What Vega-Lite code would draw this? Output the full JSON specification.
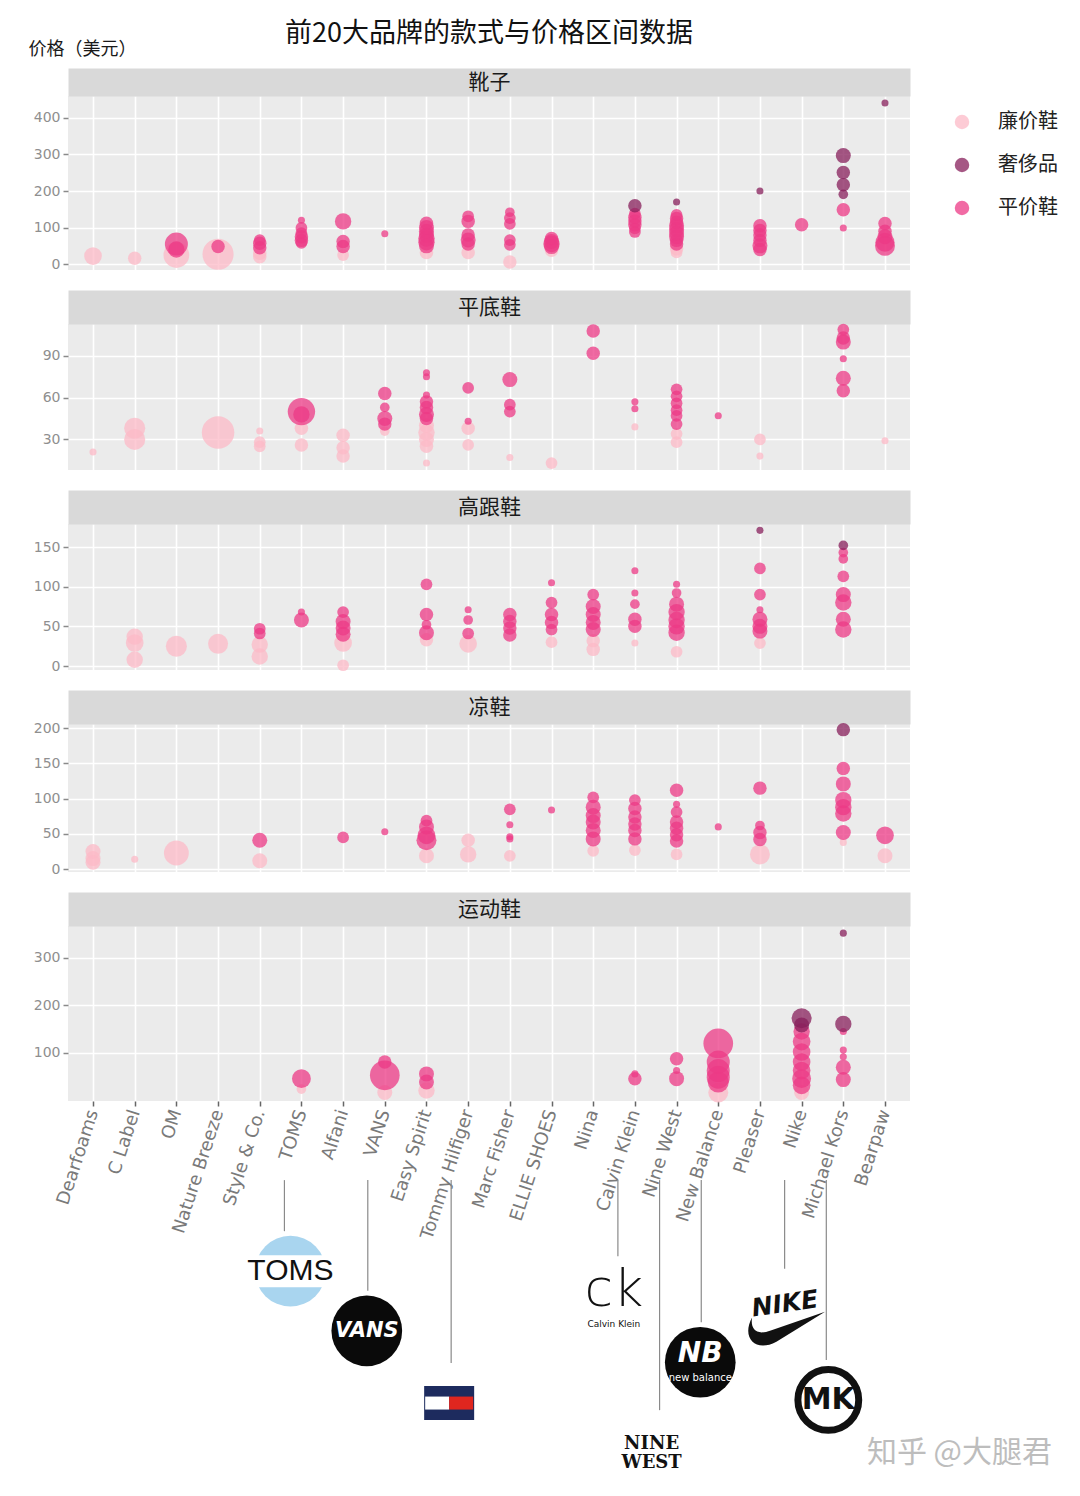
{
  "$schema": "https://vega.github.io/schema/vega-lite/v6.json",
  "background": "#ffffff",
  "padding": {"left": 28, "top": 20, "right": 5, "bottom": 5},
  "title": {
    "text": "前20大品牌的款式与价格区间数据",
    "anchor": "middle",
    "frame": "group",
    "font": "Noto Sans CJK SC",
    "fontSize": 27,
    "fontWeight": "normal",
    "color": "#111111",
    "offset": -8
  },
  "config": {
    "view": {"fill": "#ebebeb", "stroke": null},
    "font": "Noto Sans CJK SC",
    "axisX": {"gridColor": "#ffffff", "gridWidth": 1.6},
    "axisY": {
      "labelFont": "DejaVu Sans", "labelFontSize": 14, "labelColor": "#8f8f8f",
      "tickColor": "#8a8a8a", "tickSize": 5, "tickWidth": 1.5, "labelPadding": 3,
      "domain": false, "gridColor": "#ffffff", "gridWidth": 1.6
    },
    "legend": {
      "orient": "none", "legendX": 884, "legendY": 16,
      "symbolType": "circle", "symbolSize": 210, "symbolOpacity": 0.75, "symbolStrokeWidth": 0,
      "labelFont": "Noto Sans CJK SC", "labelFontSize": 20, "labelColor": "#222222",
      "labelOffset": 26, "rowPadding": 23
    }
  },
  "datasets": {
    "shoes": [
      {"cat":"靴子","brand":"Dearfoams","price":22,"grade":"廉价鞋","n":7},
      {"cat":"靴子","brand":"C Label","price":16,"grade":"廉价鞋","n":4},
      {"cat":"靴子","brand":"OM","price":25,"grade":"廉价鞋","n":15},
      {"cat":"靴子","brand":"OM","price":40,"grade":"平价鞋","n":6},
      {"cat":"靴子","brand":"OM","price":55,"grade":"平价鞋","n":12},
      {"cat":"靴子","brand":"Nature Breeze","price":27,"grade":"廉价鞋","n":22},
      {"cat":"靴子","brand":"Nature Breeze","price":48,"grade":"平价鞋","n":4},
      {"cat":"靴子","brand":"Style & Co.","price":20,"grade":"廉价鞋","n":4},
      {"cat":"靴子","brand":"Style & Co.","price":30,"grade":"廉价鞋","n":4},
      {"cat":"靴子","brand":"Style & Co.","price":45,"grade":"平价鞋","n":4},
      {"cat":"靴子","brand":"Style & Co.","price":57,"grade":"平价鞋","n":4},
      {"cat":"靴子","brand":"Style & Co.","price":66,"grade":"平价鞋","n":3},
      {"cat":"靴子","brand":"TOMS","price":58,"grade":"平价鞋","n":3},
      {"cat":"靴子","brand":"TOMS","price":65,"grade":"平价鞋","n":4},
      {"cat":"靴子","brand":"TOMS","price":75,"grade":"平价鞋","n":4},
      {"cat":"靴子","brand":"TOMS","price":85,"grade":"平价鞋","n":3},
      {"cat":"靴子","brand":"TOMS","price":99,"grade":"平价鞋","n":3},
      {"cat":"靴子","brand":"TOMS","price":120,"grade":"平价鞋","n":1},
      {"cat":"靴子","brand":"Alfani","price":25,"grade":"廉价鞋","n":3},
      {"cat":"靴子","brand":"Alfani","price":48,"grade":"平价鞋","n":4},
      {"cat":"靴子","brand":"Alfani","price":62,"grade":"平价鞋","n":4},
      {"cat":"靴子","brand":"Alfani","price":117,"grade":"平价鞋","n":6},
      {"cat":"靴子","brand":"VANS","price":83,"grade":"平价鞋","n":1},
      {"cat":"靴子","brand":"Easy Spirit","price":32,"grade":"廉价鞋","n":4},
      {"cat":"靴子","brand":"Easy Spirit","price":50,"grade":"平价鞋","n":5},
      {"cat":"靴子","brand":"Easy Spirit","price":60,"grade":"平价鞋","n":6},
      {"cat":"靴子","brand":"Easy Spirit","price":70,"grade":"平价鞋","n":6},
      {"cat":"靴子","brand":"Easy Spirit","price":80,"grade":"平价鞋","n":5},
      {"cat":"靴子","brand":"Easy Spirit","price":90,"grade":"平价鞋","n":5},
      {"cat":"靴子","brand":"Easy Spirit","price":100,"grade":"平价鞋","n":5},
      {"cat":"靴子","brand":"Easy Spirit","price":112,"grade":"平价鞋","n":4},
      {"cat":"靴子","brand":"Tommy Hilfiger","price":32,"grade":"廉价鞋","n":4},
      {"cat":"靴子","brand":"Tommy Hilfiger","price":55,"grade":"平价鞋","n":4},
      {"cat":"靴子","brand":"Tommy Hilfiger","price":66,"grade":"平价鞋","n":5},
      {"cat":"靴子","brand":"Tommy Hilfiger","price":80,"grade":"平价鞋","n":4},
      {"cat":"靴子","brand":"Tommy Hilfiger","price":117,"grade":"平价鞋","n":4},
      {"cat":"靴子","brand":"Tommy Hilfiger","price":131,"grade":"平价鞋","n":3},
      {"cat":"靴子","brand":"Marc Fisher","price":6,"grade":"廉价鞋","n":4},
      {"cat":"靴子","brand":"Marc Fisher","price":53,"grade":"平价鞋","n":3},
      {"cat":"靴子","brand":"Marc Fisher","price":66,"grade":"平价鞋","n":3},
      {"cat":"靴子","brand":"Marc Fisher","price":110,"grade":"平价鞋","n":3},
      {"cat":"靴子","brand":"Marc Fisher","price":126,"grade":"平价鞋","n":3},
      {"cat":"靴子","brand":"Marc Fisher","price":142,"grade":"平价鞋","n":2},
      {"cat":"靴子","brand":"ELLIE SHOES","price":38,"grade":"廉价鞋","n":4},
      {"cat":"靴子","brand":"ELLIE SHOES","price":48,"grade":"平价鞋","n":5},
      {"cat":"靴子","brand":"ELLIE SHOES","price":55,"grade":"平价鞋","n":6},
      {"cat":"靴子","brand":"ELLIE SHOES","price":62,"grade":"平价鞋","n":5},
      {"cat":"靴子","brand":"ELLIE SHOES","price":70,"grade":"平价鞋","n":4},
      {"cat":"靴子","brand":"Calvin Klein","price":88,"grade":"平价鞋","n":3},
      {"cat":"靴子","brand":"Calvin Klein","price":98,"grade":"平价鞋","n":3},
      {"cat":"靴子","brand":"Calvin Klein","price":108,"grade":"平价鞋","n":4},
      {"cat":"靴子","brand":"Calvin Klein","price":118,"grade":"平价鞋","n":4},
      {"cat":"靴子","brand":"Calvin Klein","price":128,"grade":"平价鞋","n":4},
      {"cat":"靴子","brand":"Calvin Klein","price":138,"grade":"平价鞋","n":3},
      {"cat":"靴子","brand":"Calvin Klein","price":160,"grade":"奢侈品","n":4},
      {"cat":"靴子","brand":"Nine West","price":32,"grade":"廉价鞋","n":3},
      {"cat":"靴子","brand":"Nine West","price":42,"grade":"廉价鞋","n":4},
      {"cat":"靴子","brand":"Nine West","price":55,"grade":"平价鞋","n":4},
      {"cat":"靴子","brand":"Nine West","price":65,"grade":"平价鞋","n":4},
      {"cat":"靴子","brand":"Nine West","price":75,"grade":"平价鞋","n":5},
      {"cat":"靴子","brand":"Nine West","price":85,"grade":"平价鞋","n":5},
      {"cat":"靴子","brand":"Nine West","price":95,"grade":"平价鞋","n":5},
      {"cat":"靴子","brand":"Nine West","price":105,"grade":"平价鞋","n":5},
      {"cat":"靴子","brand":"Nine West","price":115,"grade":"平价鞋","n":4},
      {"cat":"靴子","brand":"Nine West","price":125,"grade":"平价鞋","n":4},
      {"cat":"靴子","brand":"Nine West","price":135,"grade":"平价鞋","n":3},
      {"cat":"靴子","brand":"Nine West","price":170,"grade":"奢侈品","n":1},
      {"cat":"靴子","brand":"Pleaser","price":40,"grade":"平价鞋","n":4},
      {"cat":"靴子","brand":"Pleaser","price":50,"grade":"平价鞋","n":5},
      {"cat":"靴子","brand":"Pleaser","price":65,"grade":"平价鞋","n":4},
      {"cat":"靴子","brand":"Pleaser","price":80,"grade":"平价鞋","n":4},
      {"cat":"靴子","brand":"Pleaser","price":92,"grade":"平价鞋","n":4},
      {"cat":"靴子","brand":"Pleaser","price":105,"grade":"平价鞋","n":4},
      {"cat":"靴子","brand":"Pleaser","price":200,"grade":"奢侈品","n":1},
      {"cat":"靴子","brand":"Nike","price":108,"grade":"平价鞋","n":4},
      {"cat":"靴子","brand":"Michael Kors","price":99,"grade":"平价鞋","n":1},
      {"cat":"靴子","brand":"Michael Kors","price":149,"grade":"平价鞋","n":4},
      {"cat":"靴子","brand":"Michael Kors","price":191,"grade":"奢侈品","n":2},
      {"cat":"靴子","brand":"Michael Kors","price":217,"grade":"奢侈品","n":4},
      {"cat":"靴子","brand":"Michael Kors","price":251,"grade":"奢侈品","n":4},
      {"cat":"靴子","brand":"Michael Kors","price":297,"grade":"奢侈品","n":5},
      {"cat":"靴子","brand":"Bearpaw","price":50,"grade":"平价鞋","n":9},
      {"cat":"靴子","brand":"Bearpaw","price":60,"grade":"平价鞋","n":8},
      {"cat":"靴子","brand":"Bearpaw","price":75,"grade":"平价鞋","n":5},
      {"cat":"靴子","brand":"Bearpaw","price":90,"grade":"平价鞋","n":4},
      {"cat":"靴子","brand":"Bearpaw","price":111,"grade":"平价鞋","n":4},
      {"cat":"靴子","brand":"Bearpaw","price":441,"grade":"奢侈品","n":1},

      {"cat":"平底鞋","brand":"Dearfoams","price":21,"grade":"廉价鞋","n":1},
      {"cat":"平底鞋","brand":"C Label","price":30,"grade":"廉价鞋","n":10},
      {"cat":"平底鞋","brand":"C Label","price":38,"grade":"廉价鞋","n":10},
      {"cat":"平底鞋","brand":"Nature Breeze","price":35,"grade":"廉价鞋","n":24},
      {"cat":"平底鞋","brand":"Style & Co.","price":25,"grade":"廉价鞋","n":3},
      {"cat":"平底鞋","brand":"Style & Co.","price":28,"grade":"廉价鞋","n":3},
      {"cat":"平底鞋","brand":"Style & Co.","price":36,"grade":"廉价鞋","n":1},
      {"cat":"平底鞋","brand":"TOMS","price":26,"grade":"廉价鞋","n":4},
      {"cat":"平底鞋","brand":"TOMS","price":38,"grade":"廉价鞋","n":4},
      {"cat":"平底鞋","brand":"TOMS","price":48,"grade":"平价鞋","n":6},
      {"cat":"平底鞋","brand":"TOMS","price":50,"grade":"平价鞋","n":17},
      {"cat":"平底鞋","brand":"Alfani","price":18,"grade":"廉价鞋","n":4},
      {"cat":"平底鞋","brand":"Alfani","price":24,"grade":"廉价鞋","n":4},
      {"cat":"平底鞋","brand":"Alfani","price":33,"grade":"廉价鞋","n":4},
      {"cat":"平底鞋","brand":"VANS","price":36,"grade":"廉价鞋","n":2},
      {"cat":"平底鞋","brand":"VANS","price":41,"grade":"平价鞋","n":4},
      {"cat":"平底鞋","brand":"VANS","price":45,"grade":"平价鞋","n":5},
      {"cat":"平底鞋","brand":"VANS","price":53,"grade":"平价鞋","n":2},
      {"cat":"平底鞋","brand":"VANS","price":63,"grade":"平价鞋","n":4},
      {"cat":"平底鞋","brand":"Easy Spirit","price":13,"grade":"廉价鞋","n":1},
      {"cat":"平底鞋","brand":"Easy Spirit","price":25,"grade":"廉价鞋","n":4},
      {"cat":"平底鞋","brand":"Easy Spirit","price":30,"grade":"廉价鞋","n":5},
      {"cat":"平底鞋","brand":"Easy Spirit","price":35,"grade":"廉价鞋","n":6},
      {"cat":"平底鞋","brand":"Easy Spirit","price":40,"grade":"廉价鞋","n":5},
      {"cat":"平底鞋","brand":"Easy Spirit","price":45,"grade":"平价鞋","n":4},
      {"cat":"平底鞋","brand":"Easy Spirit","price":48,"grade":"平价鞋","n":5},
      {"cat":"平底鞋","brand":"Easy Spirit","price":53,"grade":"平价鞋","n":4},
      {"cat":"平底鞋","brand":"Easy Spirit","price":57,"grade":"平价鞋","n":4},
      {"cat":"平底鞋","brand":"Easy Spirit","price":62,"grade":"平价鞋","n":1},
      {"cat":"平底鞋","brand":"Easy Spirit","price":75,"grade":"平价鞋","n":1},
      {"cat":"平底鞋","brand":"Easy Spirit","price":78,"grade":"平价鞋","n":1},
      {"cat":"平底鞋","brand":"Tommy Hilfiger","price":26,"grade":"廉价鞋","n":3},
      {"cat":"平底鞋","brand":"Tommy Hilfiger","price":38,"grade":"廉价鞋","n":4},
      {"cat":"平底鞋","brand":"Tommy Hilfiger","price":43,"grade":"平价鞋","n":1},
      {"cat":"平底鞋","brand":"Tommy Hilfiger","price":67,"grade":"平价鞋","n":3},
      {"cat":"平底鞋","brand":"Marc Fisher","price":17,"grade":"廉价鞋","n":1},
      {"cat":"平底鞋","brand":"Marc Fisher","price":50,"grade":"平价鞋","n":3},
      {"cat":"平底鞋","brand":"Marc Fisher","price":55,"grade":"平价鞋","n":3},
      {"cat":"平底鞋","brand":"Marc Fisher","price":73,"grade":"平价鞋","n":5},
      {"cat":"平底鞋","brand":"ELLIE SHOES","price":13,"grade":"廉价鞋","n":3},
      {"cat":"平底鞋","brand":"Nina","price":92,"grade":"平价鞋","n":4},
      {"cat":"平底鞋","brand":"Nina","price":108,"grade":"平价鞋","n":4},
      {"cat":"平底鞋","brand":"Calvin Klein","price":39,"grade":"廉价鞋","n":1},
      {"cat":"平底鞋","brand":"Calvin Klein","price":52,"grade":"平价鞋","n":1},
      {"cat":"平底鞋","brand":"Calvin Klein","price":57,"grade":"平价鞋","n":1},
      {"cat":"平底鞋","brand":"Nine West","price":28,"grade":"廉价鞋","n":3},
      {"cat":"平底鞋","brand":"Nine West","price":34,"grade":"廉价鞋","n":3},
      {"cat":"平底鞋","brand":"Nine West","price":41,"grade":"平价鞋","n":3},
      {"cat":"平底鞋","brand":"Nine West","price":47,"grade":"平价鞋","n":3},
      {"cat":"平底鞋","brand":"Nine West","price":51,"grade":"平价鞋","n":3},
      {"cat":"平底鞋","brand":"Nine West","price":56,"grade":"平价鞋","n":3},
      {"cat":"平底鞋","brand":"Nine West","price":61,"grade":"平价鞋","n":3},
      {"cat":"平底鞋","brand":"Nine West","price":66,"grade":"平价鞋","n":3},
      {"cat":"平底鞋","brand":"New Balance","price":47,"grade":"平价鞋","n":1},
      {"cat":"平底鞋","brand":"Pleaser","price":18,"grade":"廉价鞋","n":1},
      {"cat":"平底鞋","brand":"Pleaser","price":30,"grade":"廉价鞋","n":3},
      {"cat":"平底鞋","brand":"Michael Kors","price":65,"grade":"平价鞋","n":4},
      {"cat":"平底鞋","brand":"Michael Kors","price":74,"grade":"平价鞋","n":5},
      {"cat":"平底鞋","brand":"Michael Kors","price":88,"grade":"平价鞋","n":1},
      {"cat":"平底鞋","brand":"Michael Kors","price":100,"grade":"平价鞋","n":5},
      {"cat":"平底鞋","brand":"Michael Kors","price":103,"grade":"平价鞋","n":4},
      {"cat":"平底鞋","brand":"Michael Kors","price":109,"grade":"平价鞋","n":3},
      {"cat":"平底鞋","brand":"Bearpaw","price":29,"grade":"廉价鞋","n":1},

      {"cat":"高跟鞋","brand":"C Label","price":8,"grade":"廉价鞋","n":6},
      {"cat":"高跟鞋","brand":"C Label","price":29,"grade":"廉价鞋","n":7},
      {"cat":"高跟鞋","brand":"C Label","price":37,"grade":"廉价鞋","n":6},
      {"cat":"高跟鞋","brand":"OM","price":25,"grade":"廉价鞋","n":10},
      {"cat":"高跟鞋","brand":"Nature Breeze","price":28,"grade":"廉价鞋","n":9},
      {"cat":"高跟鞋","brand":"Style & Co.","price":12,"grade":"廉价鞋","n":6},
      {"cat":"高跟鞋","brand":"Style & Co.","price":27,"grade":"廉价鞋","n":6},
      {"cat":"高跟鞋","brand":"Style & Co.","price":41,"grade":"平价鞋","n":3},
      {"cat":"高跟鞋","brand":"Style & Co.","price":47,"grade":"平价鞋","n":3},
      {"cat":"高跟鞋","brand":"TOMS","price":58,"grade":"平价鞋","n":5},
      {"cat":"高跟鞋","brand":"TOMS","price":68,"grade":"平价鞋","n":1},
      {"cat":"高跟鞋","brand":"Alfani","price":1,"grade":"廉价鞋","n":3},
      {"cat":"高跟鞋","brand":"Alfani","price":29,"grade":"廉价鞋","n":7},
      {"cat":"高跟鞋","brand":"Alfani","price":40,"grade":"平价鞋","n":5},
      {"cat":"高跟鞋","brand":"Alfani","price":48,"grade":"平价鞋","n":5},
      {"cat":"高跟鞋","brand":"Alfani","price":56,"grade":"平价鞋","n":5},
      {"cat":"高跟鞋","brand":"Alfani","price":68,"grade":"平价鞋","n":3},
      {"cat":"高跟鞋","brand":"Easy Spirit","price":33,"grade":"廉价鞋","n":4},
      {"cat":"高跟鞋","brand":"Easy Spirit","price":42,"grade":"平价鞋","n":5},
      {"cat":"高跟鞋","brand":"Easy Spirit","price":52,"grade":"平价鞋","n":2},
      {"cat":"高跟鞋","brand":"Easy Spirit","price":65,"grade":"平价鞋","n":4},
      {"cat":"高跟鞋","brand":"Easy Spirit","price":103,"grade":"平价鞋","n":3},
      {"cat":"高跟鞋","brand":"Tommy Hilfiger","price":28,"grade":"廉价鞋","n":7},
      {"cat":"高跟鞋","brand":"Tommy Hilfiger","price":41,"grade":"平价鞋","n":3},
      {"cat":"高跟鞋","brand":"Tommy Hilfiger","price":58,"grade":"平价鞋","n":2},
      {"cat":"高跟鞋","brand":"Tommy Hilfiger","price":71,"grade":"平价鞋","n":1},
      {"cat":"高跟鞋","brand":"Marc Fisher","price":39,"grade":"平价鞋","n":4},
      {"cat":"高跟鞋","brand":"Marc Fisher","price":48,"grade":"平价鞋","n":4},
      {"cat":"高跟鞋","brand":"Marc Fisher","price":56,"grade":"平价鞋","n":4},
      {"cat":"高跟鞋","brand":"Marc Fisher","price":65,"grade":"平价鞋","n":4},
      {"cat":"高跟鞋","brand":"ELLIE SHOES","price":30,"grade":"廉价鞋","n":3},
      {"cat":"高跟鞋","brand":"ELLIE SHOES","price":46,"grade":"平价鞋","n":3},
      {"cat":"高跟鞋","brand":"ELLIE SHOES","price":55,"grade":"平价鞋","n":4},
      {"cat":"高跟鞋","brand":"ELLIE SHOES","price":65,"grade":"平价鞋","n":4},
      {"cat":"高跟鞋","brand":"ELLIE SHOES","price":80,"grade":"平价鞋","n":3},
      {"cat":"高跟鞋","brand":"ELLIE SHOES","price":105,"grade":"平价鞋","n":1},
      {"cat":"高跟鞋","brand":"Nina","price":21,"grade":"廉价鞋","n":4},
      {"cat":"高跟鞋","brand":"Nina","price":32,"grade":"廉价鞋","n":4},
      {"cat":"高跟鞋","brand":"Nina","price":46,"grade":"平价鞋","n":5},
      {"cat":"高跟鞋","brand":"Nina","price":55,"grade":"平价鞋","n":5},
      {"cat":"高跟鞋","brand":"Nina","price":65,"grade":"平价鞋","n":5},
      {"cat":"高跟鞋","brand":"Nina","price":75,"grade":"平价鞋","n":5},
      {"cat":"高跟鞋","brand":"Nina","price":90,"grade":"平价鞋","n":3},
      {"cat":"高跟鞋","brand":"Calvin Klein","price":29,"grade":"廉价鞋","n":1},
      {"cat":"高跟鞋","brand":"Calvin Klein","price":50,"grade":"平价鞋","n":4},
      {"cat":"高跟鞋","brand":"Calvin Klein","price":59,"grade":"平价鞋","n":4},
      {"cat":"高跟鞋","brand":"Calvin Klein","price":78,"grade":"平价鞋","n":2},
      {"cat":"高跟鞋","brand":"Calvin Klein","price":92,"grade":"平价鞋","n":1},
      {"cat":"高跟鞋","brand":"Calvin Klein","price":120,"grade":"平价鞋","n":1},
      {"cat":"高跟鞋","brand":"Nine West","price":18,"grade":"廉价鞋","n":3},
      {"cat":"高跟鞋","brand":"Nine West","price":42,"grade":"平价鞋","n":6},
      {"cat":"高跟鞋","brand":"Nine West","price":50,"grade":"平价鞋","n":6},
      {"cat":"高跟鞋","brand":"Nine West","price":58,"grade":"平价鞋","n":6},
      {"cat":"高跟鞋","brand":"Nine West","price":68,"grade":"平价鞋","n":6},
      {"cat":"高跟鞋","brand":"Nine West","price":78,"grade":"平价鞋","n":5},
      {"cat":"高跟鞋","brand":"Nine West","price":92,"grade":"平价鞋","n":2},
      {"cat":"高跟鞋","brand":"Nine West","price":103,"grade":"平价鞋","n":1},
      {"cat":"高跟鞋","brand":"Pleaser","price":29,"grade":"廉价鞋","n":3},
      {"cat":"高跟鞋","brand":"Pleaser","price":44,"grade":"平价鞋","n":5},
      {"cat":"高跟鞋","brand":"Pleaser","price":50,"grade":"平价鞋","n":5},
      {"cat":"高跟鞋","brand":"Pleaser","price":59,"grade":"平价鞋","n":5},
      {"cat":"高跟鞋","brand":"Pleaser","price":71,"grade":"平价鞋","n":1},
      {"cat":"高跟鞋","brand":"Pleaser","price":90,"grade":"平价鞋","n":3},
      {"cat":"高跟鞋","brand":"Pleaser","price":123,"grade":"平价鞋","n":3},
      {"cat":"高跟鞋","brand":"Pleaser","price":171,"grade":"奢侈品","n":1},
      {"cat":"高跟鞋","brand":"Michael Kors","price":46,"grade":"平价鞋","n":6},
      {"cat":"高跟鞋","brand":"Michael Kors","price":59,"grade":"平价鞋","n":5},
      {"cat":"高跟鞋","brand":"Michael Kors","price":80,"grade":"平价鞋","n":6},
      {"cat":"高跟鞋","brand":"Michael Kors","price":90,"grade":"平价鞋","n":5},
      {"cat":"高跟鞋","brand":"Michael Kors","price":113,"grade":"平价鞋","n":3},
      {"cat":"高跟鞋","brand":"Michael Kors","price":135,"grade":"平价鞋","n":2},
      {"cat":"高跟鞋","brand":"Michael Kors","price":143,"grade":"平价鞋","n":2},
      {"cat":"高跟鞋","brand":"Michael Kors","price":152,"grade":"奢侈品","n":2},

      {"cat":"凉鞋","brand":"Dearfoams","price":10,"grade":"廉价鞋","n":5},
      {"cat":"凉鞋","brand":"Dearfoams","price":15,"grade":"廉价鞋","n":5},
      {"cat":"凉鞋","brand":"Dearfoams","price":25,"grade":"廉价鞋","n":5},
      {"cat":"凉鞋","brand":"C Label","price":14,"grade":"廉价鞋","n":1},
      {"cat":"凉鞋","brand":"OM","price":23,"grade":"廉价鞋","n":14},
      {"cat":"凉鞋","brand":"Style & Co.","price":12,"grade":"廉价鞋","n":5},
      {"cat":"凉鞋","brand":"Style & Co.","price":41,"grade":"平价鞋","n":5},
      {"cat":"凉鞋","brand":"Alfani","price":45,"grade":"平价鞋","n":3},
      {"cat":"凉鞋","brand":"VANS","price":53,"grade":"平价鞋","n":1},
      {"cat":"凉鞋","brand":"Easy Spirit","price":19,"grade":"廉价鞋","n":5},
      {"cat":"凉鞋","brand":"Easy Spirit","price":41,"grade":"平价鞋","n":9},
      {"cat":"凉鞋","brand":"Easy Spirit","price":48,"grade":"平价鞋","n":7},
      {"cat":"凉鞋","brand":"Easy Spirit","price":60,"grade":"平价鞋","n":5},
      {"cat":"凉鞋","brand":"Easy Spirit","price":69,"grade":"平价鞋","n":3},
      {"cat":"凉鞋","brand":"Tommy Hilfiger","price":21,"grade":"廉价鞋","n":6},
      {"cat":"凉鞋","brand":"Tommy Hilfiger","price":41,"grade":"廉价鞋","n":4},
      {"cat":"凉鞋","brand":"Marc Fisher","price":19,"grade":"廉价鞋","n":3},
      {"cat":"凉鞋","brand":"Marc Fisher","price":43,"grade":"平价鞋","n":1},
      {"cat":"凉鞋","brand":"Marc Fisher","price":46,"grade":"平价鞋","n":1},
      {"cat":"凉鞋","brand":"Marc Fisher","price":63,"grade":"平价鞋","n":1},
      {"cat":"凉鞋","brand":"Marc Fisher","price":85,"grade":"平价鞋","n":3},
      {"cat":"凉鞋","brand":"ELLIE SHOES","price":84,"grade":"平价鞋","n":1},
      {"cat":"凉鞋","brand":"Nina","price":26,"grade":"廉价鞋","n":3},
      {"cat":"凉鞋","brand":"Nina","price":43,"grade":"平价鞋","n":5},
      {"cat":"凉鞋","brand":"Nina","price":55,"grade":"平价鞋","n":5},
      {"cat":"凉鞋","brand":"Nina","price":67,"grade":"平价鞋","n":5},
      {"cat":"凉鞋","brand":"Nina","price":76,"grade":"平价鞋","n":5},
      {"cat":"凉鞋","brand":"Nina","price":88,"grade":"平价鞋","n":5},
      {"cat":"凉鞋","brand":"Nina","price":102,"grade":"平价鞋","n":3},
      {"cat":"凉鞋","brand":"Calvin Klein","price":27,"grade":"廉价鞋","n":3},
      {"cat":"凉鞋","brand":"Calvin Klein","price":43,"grade":"平价鞋","n":4},
      {"cat":"凉鞋","brand":"Calvin Klein","price":55,"grade":"平价鞋","n":4},
      {"cat":"凉鞋","brand":"Calvin Klein","price":64,"grade":"平价鞋","n":4},
      {"cat":"凉鞋","brand":"Calvin Klein","price":74,"grade":"平价鞋","n":4},
      {"cat":"凉鞋","brand":"Calvin Klein","price":86,"grade":"平价鞋","n":4},
      {"cat":"凉鞋","brand":"Calvin Klein","price":98,"grade":"平价鞋","n":3},
      {"cat":"凉鞋","brand":"Nine West","price":21,"grade":"廉价鞋","n":3},
      {"cat":"凉鞋","brand":"Nine West","price":40,"grade":"平价鞋","n":4},
      {"cat":"凉鞋","brand":"Nine West","price":49,"grade":"平价鞋","n":4},
      {"cat":"凉鞋","brand":"Nine West","price":58,"grade":"平价鞋","n":4},
      {"cat":"凉鞋","brand":"Nine West","price":67,"grade":"平价鞋","n":4},
      {"cat":"凉鞋","brand":"Nine West","price":81,"grade":"平价鞋","n":3},
      {"cat":"凉鞋","brand":"Nine West","price":92,"grade":"平价鞋","n":1},
      {"cat":"凉鞋","brand":"Nine West","price":112,"grade":"平价鞋","n":4},
      {"cat":"凉鞋","brand":"New Balance","price":60,"grade":"平价鞋","n":1},
      {"cat":"凉鞋","brand":"Pleaser","price":21,"grade":"廉价鞋","n":9},
      {"cat":"凉鞋","brand":"Pleaser","price":42,"grade":"平价鞋","n":4},
      {"cat":"凉鞋","brand":"Pleaser","price":52,"grade":"平价鞋","n":4},
      {"cat":"凉鞋","brand":"Pleaser","price":62,"grade":"平价鞋","n":2},
      {"cat":"凉鞋","brand":"Pleaser","price":115,"grade":"平价鞋","n":4},
      {"cat":"凉鞋","brand":"Michael Kors","price":38,"grade":"廉价鞋","n":1},
      {"cat":"凉鞋","brand":"Michael Kors","price":52,"grade":"平价鞋","n":5},
      {"cat":"凉鞋","brand":"Michael Kors","price":79,"grade":"平价鞋","n":6},
      {"cat":"凉鞋","brand":"Michael Kors","price":88,"grade":"平价鞋","n":6},
      {"cat":"凉鞋","brand":"Michael Kors","price":98,"grade":"平价鞋","n":6},
      {"cat":"凉鞋","brand":"Michael Kors","price":121,"grade":"平价鞋","n":5},
      {"cat":"凉鞋","brand":"Michael Kors","price":143,"grade":"平价鞋","n":4},
      {"cat":"凉鞋","brand":"Michael Kors","price":198,"grade":"奢侈品","n":4},
      {"cat":"凉鞋","brand":"Bearpaw","price":19,"grade":"廉价鞋","n":5},
      {"cat":"凉鞋","brand":"Bearpaw","price":48,"grade":"平价鞋","n":7},

      {"cat":"运动鞋","brand":"TOMS","price":24,"grade":"廉价鞋","n":2},
      {"cat":"运动鞋","brand":"TOMS","price":46,"grade":"平价鞋","n":8},
      {"cat":"运动鞋","brand":"VANS","price":17,"grade":"廉价鞋","n":5},
      {"cat":"运动鞋","brand":"VANS","price":53,"grade":"平价鞋","n":20},
      {"cat":"运动鞋","brand":"VANS","price":81,"grade":"平价鞋","n":4},
      {"cat":"运动鞋","brand":"Easy Spirit","price":21,"grade":"廉价鞋","n":6},
      {"cat":"运动鞋","brand":"Easy Spirit","price":39,"grade":"平价鞋","n":5},
      {"cat":"运动鞋","brand":"Easy Spirit","price":56,"grade":"平价鞋","n":5},
      {"cat":"运动鞋","brand":"Calvin Klein","price":46,"grade":"平价鞋","n":4},
      {"cat":"运动鞋","brand":"Calvin Klein","price":56,"grade":"平价鞋","n":1},
      {"cat":"运动鞋","brand":"Nine West","price":46,"grade":"平价鞋","n":5},
      {"cat":"运动鞋","brand":"Nine West","price":63,"grade":"平价鞋","n":1},
      {"cat":"运动鞋","brand":"Nine West","price":88,"grade":"平价鞋","n":4},
      {"cat":"运动鞋","brand":"New Balance","price":17,"grade":"廉价鞋","n":9},
      {"cat":"运动鞋","brand":"New Balance","price":39,"grade":"平价鞋","n":10},
      {"cat":"运动鞋","brand":"New Balance","price":49,"grade":"平价鞋","n":12},
      {"cat":"运动鞋","brand":"New Balance","price":63,"grade":"平价鞋","n":12},
      {"cat":"运动鞋","brand":"New Balance","price":81,"grade":"平价鞋","n":12},
      {"cat":"运动鞋","brand":"New Balance","price":120,"grade":"平价鞋","n":20},
      {"cat":"运动鞋","brand":"Nike","price":17,"grade":"廉价鞋","n":5},
      {"cat":"运动鞋","brand":"Nike","price":32,"grade":"平价鞋","n":7},
      {"cat":"运动鞋","brand":"Nike","price":46,"grade":"平价鞋","n":8},
      {"cat":"运动鞋","brand":"Nike","price":63,"grade":"平价鞋","n":7},
      {"cat":"运动鞋","brand":"Nike","price":81,"grade":"平价鞋","n":7},
      {"cat":"运动鞋","brand":"Nike","price":102,"grade":"平价鞋","n":7},
      {"cat":"运动鞋","brand":"Nike","price":124,"grade":"平价鞋","n":7},
      {"cat":"运动鞋","brand":"Nike","price":145,"grade":"平价鞋","n":6},
      {"cat":"运动鞋","brand":"Nike","price":159,"grade":"奢侈品","n":5},
      {"cat":"运动鞋","brand":"Nike","price":173,"grade":"奢侈品","n":9},
      {"cat":"运动鞋","brand":"Michael Kors","price":44,"grade":"平价鞋","n":5},
      {"cat":"运动鞋","brand":"Michael Kors","price":70,"grade":"平价鞋","n":5},
      {"cat":"运动鞋","brand":"Michael Kors","price":92,"grade":"平价鞋","n":1},
      {"cat":"运动鞋","brand":"Michael Kors","price":106,"grade":"平价鞋","n":1},
      {"cat":"运动鞋","brand":"Michael Kors","price":145,"grade":"平价鞋","n":1},
      {"cat":"运动鞋","brand":"Michael Kors","price":161,"grade":"奢侈品","n":6},
      {"cat":"运动鞋","brand":"Michael Kors","price":352,"grade":"奢侈品","n":1}
    ],
    "logos": [
      {"brand": "TOMS", "logo": "TOMS", "tier": 3.7},
      {"brand": "Calvin Klein", "logo": "ck", "tier": 4.5},
      {"brand": "Nike", "logo": "NIKE", "tier": 4.9},
      {"brand": "VANS", "logo": "VANS", "tier": 5.6},
      {"brand": "New Balance", "logo": "new balance", "tier": 6.6},
      {"brand": "Michael Kors", "logo": "MK", "tier": 7.8},
      {"brand": "Tommy Hilfiger", "logo": "TOMMY HILFIGER", "tier": 7.9},
      {"brand": "Nine West", "logo": "NINE WEST", "tier": 9.4}
    ]
  },
  "data": {"name": "shoes"},
  "bounds": "flush",
  "spacing": 54,
  "resolve": {"scale": {"color": "shared", "size": "shared"}},
  "vconcat": [
    {
      "width": 842, "height": 174,
      "transform": [{"filter": "datum.cat === '靴子'"}],
      "mark": {"type": "circle", "opacity": 0.75},
      "encoding": {
        "x": {"field": "brand", "type": "nominal",
          "scale": {"type": "point", "padding": 0.6, "domain": ["Dearfoams","C Label","OM","Nature Breeze","Style & Co.","TOMS","Alfani","VANS","Easy Spirit","Tommy Hilfiger","Marc Fisher","ELLIE SHOES","Nina","Calvin Klein","Nine West","New Balance","Pleaser","Nike","Michael Kors","Bearpaw"]},
          "axis": {"orient": "top", "labels": false, "ticks": false, "domain": true, "domainColor": "#d9d9d9", "domainWidth": 28, "offset": 14, "grid": true,
            "title": "靴子", "titleFont": "Noto Sans CJK SC", "titleFontSize": 21, "titleFontWeight": "normal", "titleColor": "#1a1a1a", "titleBaseline": "middle", "titleY": 0}},
        "y": {"field": "price", "type": "quantitative", "scale": {"domain": [-16, 460], "nice": false, "zero": false},
          "axis": {"values": [0, 100, 200, 300, 400], "title": "价格（美元）", "titleAngle": 0, "titleAlign": "left", "titleBaseline": "middle",
            "titleX": -40, "titleY": -47, "titleFont": "Noto Sans CJK SC", "titleFontSize": 18, "titleFontWeight": "normal", "titleColor": "#1a1a1a"}},
        "color": {"field": "grade", "type": "nominal", "scale": {"domain": ["廉价鞋","奢侈品","平价鞋"], "range": ["#fcbac7","#871f5b","#ec3a86"]}, "legend": {"title": null}},
        "size": {"field": "n", "type": "quantitative", "scale": {"domain": [1, 25], "range": [50, 1100], "zero": false}, "legend": null},
        "order": {"field": "grade", "sort": "descending"}
      }
    },
    {
      "width": 842, "height": 146,
      "transform": [{"filter": "datum.cat === '平底鞋'"}],
      "mark": {"type": "circle", "opacity": 0.75},
      "encoding": {
        "x": {"field": "brand", "type": "nominal",
          "scale": {"type": "point", "padding": 0.6, "domain": ["Dearfoams","C Label","OM","Nature Breeze","Style & Co.","TOMS","Alfani","VANS","Easy Spirit","Tommy Hilfiger","Marc Fisher","ELLIE SHOES","Nina","Calvin Klein","Nine West","New Balance","Pleaser","Nike","Michael Kors","Bearpaw"]},
          "axis": {"orient": "top", "labels": false, "ticks": false, "domain": true, "domainColor": "#d9d9d9", "domainWidth": 34, "offset": 17, "grid": true,
            "title": "平底鞋", "titleFont": "Noto Sans CJK SC", "titleFontSize": 21, "titleFontWeight": "normal", "titleColor": "#1a1a1a", "titleBaseline": "middle", "titleY": 0}},
        "y": {"field": "price", "type": "quantitative", "scale": {"domain": [8, 113], "nice": false, "zero": false},
          "axis": {"values": [30, 60, 90], "title": null}},
        "color": {"field": "grade", "type": "nominal", "scale": {"domain": ["廉价鞋","奢侈品","平价鞋"], "range": ["#fcbac7","#871f5b","#ec3a86"]}, "legend": {"title": null}},
        "size": {"field": "n", "type": "quantitative", "scale": {"domain": [1, 25], "range": [50, 1100], "zero": false}, "legend": null},
        "order": {"field": "grade", "sort": "descending"}
      }
    },
    {
      "width": 842, "height": 146,
      "transform": [{"filter": "datum.cat === '高跟鞋'"}],
      "mark": {"type": "circle", "opacity": 0.75},
      "encoding": {
        "x": {"field": "brand", "type": "nominal",
          "scale": {"type": "point", "padding": 0.6, "domain": ["Dearfoams","C Label","OM","Nature Breeze","Style & Co.","TOMS","Alfani","VANS","Easy Spirit","Tommy Hilfiger","Marc Fisher","ELLIE SHOES","Nina","Calvin Klein","Nine West","New Balance","Pleaser","Nike","Michael Kors","Bearpaw"]},
          "axis": {"orient": "top", "labels": false, "ticks": false, "domain": true, "domainColor": "#d9d9d9", "domainWidth": 34, "offset": 17, "grid": true,
            "title": "高跟鞋", "titleFont": "Noto Sans CJK SC", "titleFontSize": 21, "titleFontWeight": "normal", "titleColor": "#1a1a1a", "titleBaseline": "middle", "titleY": 0}},
        "y": {"field": "price", "type": "quantitative", "scale": {"domain": [-5, 179], "nice": false, "zero": false},
          "axis": {"values": [0, 50, 100, 150], "title": null}},
        "color": {"field": "grade", "type": "nominal", "scale": {"domain": ["廉价鞋","奢侈品","平价鞋"], "range": ["#fcbac7","#871f5b","#ec3a86"]}, "legend": {"title": null}},
        "size": {"field": "n", "type": "quantitative", "scale": {"domain": [1, 25], "range": [50, 1100], "zero": false}, "legend": null},
        "order": {"field": "grade", "sort": "descending"}
      }
    },
    {
      "width": 842, "height": 148,
      "transform": [{"filter": "datum.cat === '凉鞋'"}],
      "mark": {"type": "circle", "opacity": 0.75},
      "encoding": {
        "x": {"field": "brand", "type": "nominal",
          "scale": {"type": "point", "padding": 0.6, "domain": ["Dearfoams","C Label","OM","Nature Breeze","Style & Co.","TOMS","Alfani","VANS","Easy Spirit","Tommy Hilfiger","Marc Fisher","ELLIE SHOES","Nina","Calvin Klein","Nine West","New Balance","Pleaser","Nike","Michael Kors","Bearpaw"]},
          "axis": {"orient": "top", "labels": false, "ticks": false, "domain": true, "domainColor": "#d9d9d9", "domainWidth": 34, "offset": 17, "grid": true,
            "title": "凉鞋", "titleFont": "Noto Sans CJK SC", "titleFontSize": 21, "titleFontWeight": "normal", "titleColor": "#1a1a1a", "titleBaseline": "middle", "titleY": 0}},
        "y": {"field": "price", "type": "quantitative", "scale": {"domain": [-4, 206], "nice": false, "zero": false},
          "axis": {"values": [0, 50, 100, 150, 200], "title": null}},
        "color": {"field": "grade", "type": "nominal", "scale": {"domain": ["廉价鞋","奢侈品","平价鞋"], "range": ["#fcbac7","#871f5b","#ec3a86"]}, "legend": {"title": null}},
        "size": {"field": "n", "type": "quantitative", "scale": {"domain": [1, 25], "range": [50, 1100], "zero": false}, "legend": null},
        "order": {"field": "grade", "sort": "descending"}
      }
    },
    {
      "width": 842, "height": 175,
      "transform": [{"filter": "datum.cat === '运动鞋'"}],
      "encoding": {
        "x": {"field": "brand", "type": "nominal",
          "scale": {"type": "point", "padding": 0.6, "domain": ["Dearfoams","C Label","OM","Nature Breeze","Style & Co.","TOMS","Alfani","VANS","Easy Spirit","Tommy Hilfiger","Marc Fisher","ELLIE SHOES","Nina","Calvin Klein","Nine West","New Balance","Pleaser","Nike","Michael Kors","Bearpaw"]}},
        "y": {"field": "price", "type": "quantitative", "scale": {"domain": [-1, 367], "nice": false, "zero": false},
          "axis": {"values": [100, 200, 300], "title": null}}
      },
      "layer": [
        {
          "mark": {"type": "circle", "opacity": 0.75},
          "encoding": {
            "x": {"field": "brand", "type": "nominal",
              "axis": {"orient": "top", "labels": false, "ticks": false, "domain": true, "domainColor": "#d9d9d9", "domainWidth": 34, "offset": 17, "grid": true,
                "title": "运动鞋", "titleFont": "Noto Sans CJK SC", "titleFontSize": 21, "titleFontWeight": "normal", "titleColor": "#1a1a1a", "titleBaseline": "middle", "titleY": 0}},
            "color": {"field": "grade", "type": "nominal", "scale": {"domain": ["廉价鞋","奢侈品","平价鞋"], "range": ["#fcbac7","#871f5b","#ec3a86"]}, "legend": {"title": null}},
            "size": {"field": "n", "type": "quantitative", "scale": {"domain": [1, 25], "range": [50, 1100], "zero": false}, "legend": null},
            "order": {"field": "grade", "sort": "descending"}
          }
        },
        {
          "mark": {"type": "circle", "opacity": 0},
          "encoding": {
            "x": {"field": "brand", "type": "nominal",
              "axis": {"orient": "bottom", "grid": false, "domain": false, "ticks": true, "tickColor": "#666666", "tickSize": 5, "tickWidth": 1.5,
                "labelAngle": -72, "labelAlign": "right", "labelBaseline": "middle", "labelFont": "DejaVu Sans", "labelFontSize": 18,
                "labelColor": "#7a7a7a", "labelPadding": 4, "labelOverlap": false, "title": null}}
          }
        }
      ],
      "resolve": {"axis": {"x": "independent"}}
    },
    {
      "data": {"name": "logos"},
      "width": 842, "height": 314,
      "view": {"fill": "transparent", "stroke": null},
      "title": {"text": "知乎 @大腿君", "orient": "bottom", "anchor": "end", "frame": "group", "font": "Noto Sans CJK SC",
        "fontSize": 30, "fontWeight": "normal", "color": "#bdbdbd", "dx": 142, "offset": -34},
      "encoding": {
        "x": {"field": "brand", "type": "nominal", "axis": null,
          "scale": {"type": "point", "padding": 0.6, "domain": ["Dearfoams","C Label","OM","Nature Breeze","Style & Co.","TOMS","Alfani","VANS","Easy Spirit","Tommy Hilfiger","Marc Fisher","ELLIE SHOES","Nina","Calvin Klein","Nine West","New Balance","Pleaser","Nike","Michael Kors","Bearpaw"]}},
        "y": {"field": "tier", "type": "quantitative", "axis": null, "scale": {"domain": [0, 10], "reverse": true, "nice": false, "zero": false}}
      },
      "layer": [
        {"mark": {"type": "rule", "color": "#8a8a8a", "strokeWidth": 1.2, "xOffset": -17, "y2Offset": -40},
         "encoding": {"y": {"datum": 0.8}, "y2": {"field": "tier"}}},
        {"transform": [{"filter": "datum.logo === 'TOMS'"}],
         "mark": {"type": "circle", "size": 5000, "color": "#a9d5ef", "opacity": 1, "xOffset": -11}},
        {"transform": [{"filter": "datum.logo === 'TOMS'"}],
         "mark": {"type": "tick", "color": "#ffffff", "size": 76, "thickness": 32, "opacity": 1, "xOffset": -11}},
        {"transform": [{"filter": "datum.logo === 'TOMS'"}],
         "mark": {"type": "text", "font": "Liberation Sans", "fontSize": 30, "color": "#111111", "xOffset": -11, "baseline": "middle"},
         "encoding": {"text": {"field": "logo"}}},
        {"transform": [{"filter": "datum.logo === 'VANS' || datum.logo === 'new balance'"}],
         "mark": {"type": "circle", "size": 5000, "color": "#0a0a0a", "opacity": 1, "xOffset": -18}},
        {"transform": [{"filter": "datum.logo === 'VANS'"}],
         "mark": {"type": "text", "font": "DejaVu Sans", "fontSize": 21, "fontWeight": "bold", "fontStyle": "italic", "color": "#ffffff", "xOffset": -18, "baseline": "middle"},
         "encoding": {"text": {"field": "logo"}}},
        {"transform": [{"filter": "datum.logo === 'new balance'"}],
         "mark": {"type": "text", "font": "DejaVu Sans", "fontSize": 28, "fontWeight": "bold", "fontStyle": "italic", "color": "#ffffff", "xOffset": -18, "dy": -8, "baseline": "middle"},
         "encoding": {"text": {"value": "NB"}}},
        {"transform": [{"filter": "datum.logo === 'new balance'"}],
         "mark": {"type": "text", "font": "DejaVu Sans", "fontSize": 10, "color": "#ffffff", "xOffset": -18, "dy": 16, "baseline": "middle"},
         "encoding": {"text": {"field": "logo"}}},
        {"transform": [{"filter": "datum.logo === 'MK'"}],
         "mark": {"type": "circle", "size": 3700, "color": "#ffffff", "stroke": "#111111", "strokeWidth": 7, "opacity": 1, "xOffset": -15}},
        {"transform": [{"filter": "datum.logo === 'MK'"}],
         "mark": {"type": "text", "font": "DejaVu Sans", "fontSize": 30, "fontWeight": "bold", "color": "#111111", "xOffset": -15, "baseline": "middle"},
         "encoding": {"text": {"field": "logo"}}},
        {"transform": [{"filter": "datum.logo === 'ck'"}],
         "mark": {"type": "text", "font": "DejaVu Sans", "fontSize": 52, "fontWeight": 200, "color": "#111111", "xOffset": -21, "dy": -6, "baseline": "middle"},
         "encoding": {"text": {"field": "logo"}}},
        {"transform": [{"filter": "datum.logo === 'ck'"}],
         "mark": {"type": "text", "font": "DejaVu Sans", "fontSize": 9, "color": "#111111", "xOffset": -21, "dy": 28, "baseline": "middle"},
         "encoding": {"text": {"value": "Calvin Klein"}}},
        {"transform": [{"filter": "datum.logo === 'NINE WEST'"}],
         "mark": {"type": "text", "font": "DejaVu Serif", "fontSize": 18, "fontWeight": "bold", "color": "#111111", "xOffset": -25, "dy": -6, "lineBreak": " ", "lineHeight": 19, "baseline": "middle"},
         "encoding": {"text": {"field": "logo"}}},
        {"transform": [{"filter": "datum.logo === 'NIKE'"}],
         "mark": {"type": "text", "font": "DejaVu Sans", "fontSize": 25, "fontWeight": "bold", "fontStyle": "italic", "color": "#111111", "xOffset": -16, "dy": -5, "angle": -8, "baseline": "middle"},
         "encoding": {"text": {"field": "logo"}}},
        {"transform": [{"filter": "datum.logo === 'NIKE'"}],
         "mark": {"type": "point", "filled": true, "opacity": 1, "color": "#111111", "size": 5600, "xOffset": -14, "yOffset": 16,
           "shape": "M -0.95 -0.2 C -1.25 0.35 -0.85 0.75 -0.3 0.45 L 1 -0.35 L -0.45 0.15 C -0.85 0.3 -1.0 0.1 -0.95 -0.2 Z"}},
        {"transform": [{"filter": "datum.logo === 'TOMMY HILFIGER'"}],
         "mark": {"type": "tick", "color": "#1d2b5e", "size": 50, "thickness": 34, "opacity": 1, "xOffset": -19}},
        {"transform": [{"filter": "datum.logo === 'TOMMY HILFIGER'"}],
         "mark": {"type": "tick", "color": "#ffffff", "size": 24, "thickness": 13, "opacity": 1, "xOffset": -31}},
        {"transform": [{"filter": "datum.logo === 'TOMMY HILFIGER'"}],
         "mark": {"type": "tick", "color": "#e0261f", "size": 24, "thickness": 13, "opacity": 1, "xOffset": -7}}
      ]
    }
  ]
}
